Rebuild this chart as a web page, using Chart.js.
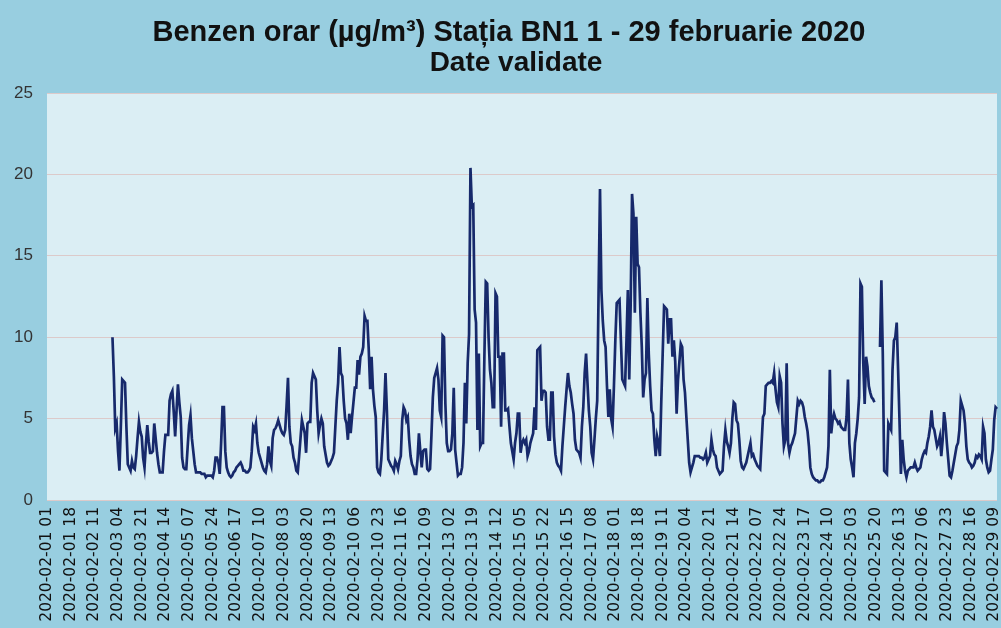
<!DOCTYPE html>
<html><head><meta charset="utf-8">
<script src="https://cdn.jsdelivr.net/npm/chart.js@4.4.1/dist/chart.umd.min.js"></script>
<style>html,body{margin:0;padding:0;background:#98cee0;}canvas{display:block}</style>
</head><body>
<canvas id="c" width="1001" height="628"></canvas>
<script>
const titleLines = ['Benzen orar (µg/m³) Stația BN1 1 - 29 februarie 2020', 'Date validate'];
const yTickValues = [0, 5, 10, 15, 20, 25];
const labelEvery = 17;

// hourly benzene values (µg/m³), index 0 = 2020-02-01 01
const benzen = [
null,null,null,null,null,null,null,null,null,null,
null,null,null,null,null,null,null,null,null,null,
null,null,null,null,null,null,null,null,null,null,
null,null,null,null,null,null,null,null,null,null,
null,null,null,null,null,null,null,
10.0,7.6,4.4,4.7,3.0,1.8,4.5,7.4,7.3,7.2,
4.5,2.2,2.0,1.8,2.4,2.0,1.9,2.7,3.8,4.8,
4.2,3.9,2.6,2.0,3.4,4.6,3.6,2.9,2.9,3.0,
4.7,3.8,2.9,2.2,1.7,1.7,1.7,3.0,4.0,4.0,
4.0,6.1,6.5,6.7,5.4,3.9,5.5,7.1,6.0,5.1,
2.6,2.0,1.9,1.9,3.3,4.6,5.2,3.8,3.0,2.2,
1.7,1.7,1.7,1.7,1.6,1.6,1.6,1.4,1.5,1.5,
1.5,1.5,1.4,1.8,2.6,2.6,2.3,1.6,3.5,5.7,
5.7,3.0,2.0,1.7,1.5,1.4,1.5,1.7,1.8,2.0,
2.1,2.2,2.3,2.1,1.8,1.8,1.7,1.7,1.8,2.0,
3.0,4.5,4.3,4.7,3.5,2.9,2.6,2.3,2.0,1.8,
1.7,2.2,3.3,2.4,2.1,3.8,4.3,4.4,4.6,4.9,
4.6,4.3,4.1,4.0,4.3,5.8,7.5,4.5,3.5,3.3,
2.6,2.3,1.8,1.7,2.7,3.8,4.9,4.5,4.1,2.9,
4.7,4.8,4.8,7.2,7.8,7.6,7.4,5.5,4.1,4.6,
5.0,4.7,3.3,2.8,2.3,2.1,2.2,2.4,2.6,2.9,
4.5,6.1,7.2,9.4,7.8,7.6,6.1,5.0,4.7,3.7,
5.3,4.1,5.1,6.0,6.9,6.9,8.6,7.7,8.8,9.0,
9.4,11.3,11.0,11.0,9.2,6.8,8.8,6.8,5.8,5.1,
2.0,1.7,1.6,2.5,4.0,5.5,7.8,5.5,2.5,2.3,
2.1,2.0,1.8,2.4,2.2,1.9,2.4,2.7,4.9,5.7,
5.5,4.9,5.1,3.7,2.7,2.2,2.0,1.6,1.6,2.5,
4.1,3.0,2.0,3.0,3.1,3.1,1.9,1.8,1.9,4.0,
6.3,7.5,7.8,8.1,7.4,5.5,5.1,10.1,10.0,5.9,
3.5,3.0,3.0,3.1,4.1,6.9,3.1,2.3,1.5,1.6,
1.6,2.0,3.5,7.2,4.7,8.4,10.2,20.4,18.0,18.1,
11.7,10.9,4.3,9.0,3.3,3.5,3.5,8.8,13.4,13.3,
10.0,8.0,7.2,5.7,5.7,12.7,12.5,8.8,8.8,4.5,
9.0,9.0,5.5,5.5,5.6,4.5,3.5,3.0,2.5,3.5,
4.1,5.3,5.3,2.9,3.5,3.7,3.5,3.7,2.7,3.0,
3.5,3.8,4.1,5.7,4.3,9.2,9.3,9.4,6.1,6.7,
6.7,6.6,4.5,3.7,3.7,6.6,6.6,3.9,2.8,2.3,
2.1,2.0,1.8,3.3,4.5,5.7,6.8,7.8,7.0,6.6,
5.9,5.3,3.7,3.1,3.0,2.9,2.6,4.5,5.7,7.8,
9.0,7.2,5.5,4.5,2.9,2.5,3.7,5.0,6.1,12.9,
19.1,12.9,11.0,9.8,9.4,7.0,5.1,6.8,5.0,4.5,
7.0,9.8,12.1,12.2,12.3,9.8,7.4,7.2,7.0,9.8,
12.9,7.4,12.0,18.8,17.6,11.5,17.4,14.5,14.3,11.5,
9.4,6.3,7.4,7.8,12.4,9.0,7.0,5.5,5.3,3.7,
2.7,3.9,3.5,2.7,6.1,9.0,11.9,11.8,11.7,9.6,
11.1,11.1,8.8,9.8,8.5,5.3,7.4,8.5,9.6,9.4,
7.4,6.6,5.1,3.7,2.3,1.7,2.0,2.3,2.7,2.7,
2.7,2.7,2.6,2.6,2.5,2.6,2.9,2.3,2.5,2.7,
3.7,3.1,2.8,2.7,2.0,1.8,1.6,1.7,1.8,3.3,
4.3,3.6,3.3,2.9,3.5,5.0,6.0,5.9,4.9,4.7,
3.7,2.4,2.0,1.9,2.1,2.3,2.7,3.1,3.5,2.7,
2.8,2.5,2.3,2.1,2.0,1.9,3.5,5.1,5.3,7.0,
7.1,7.2,7.2,7.3,7.2,7.8,6.8,6.0,5.7,7.6,
7.2,4.7,3.3,3.7,8.4,3.5,2.9,3.3,3.5,3.8,
4.1,5.1,6.1,5.9,6.1,6.0,5.7,5.1,4.7,4.2,
3.3,2.0,1.6,1.4,1.3,1.2,1.2,1.1,1.1,1.2,
1.2,1.4,1.7,2.0,3.3,8.0,4.1,4.9,5.3,5.0,
4.9,4.7,4.8,4.5,4.4,4.3,4.3,5.1,7.4,3.5,
2.5,2.0,1.4,3.5,4.1,5.0,6.3,13.3,13.1,8.4,
5.9,8.8,8.2,7.0,6.6,6.3,6.2,6.0,null,null,
null,9.4,13.5,9.0,1.8,1.7,1.6,4.7,4.5,4.3,
8.0,9.8,10.0,10.9,8.0,4.9,1.6,3.7,2.5,1.8,
1.4,1.8,1.9,2.0,2.0,2.0,2.3,2.0,1.8,1.9,
2.0,2.5,2.8,3.0,2.9,3.5,3.9,4.5,5.5,4.5,
4.3,3.8,3.3,3.5,3.9,2.7,3.7,5.4,4.7,3.5,
2.5,1.5,1.4,1.8,2.3,2.8,3.3,3.5,4.3,6.1,
5.8,5.5,4.7,3.3,2.5,2.3,2.2,2.0,2.1,2.3,
2.7,2.6,2.8,2.7,2.5,4.5,4.1,2.5,2.0,1.7,
1.8,2.5,3.1,4.9,5.7,5.6
];

// hourly categories "2020-02-DD HH" with hours 01..24
const categories = [];
for (let i = 0; i < benzen.length; i++) {
  const d = Math.floor(i / 24) + 1, h = (i % 24) + 1;
  categories.push('2020-02-' + String(d).padStart(2, '0') + ' ' + String(h).padStart(2, '0'));
}

const bgPlugin = {
  id: 'bg',
  beforeDraw(chart) {
    const c = chart.ctx, a = chart.chartArea;
    c.save();
    c.fillStyle = '#98cee0';
    c.fillRect(0, 0, chart.width, chart.height);
    c.fillStyle = '#dbeef4';
    c.fillRect(a.left, a.top, a.right - a.left, a.bottom - a.top);
    c.restore();
  }
};
const titlePlugin = {
  id: 'title2',
  afterDraw(chart) {
    const c = chart.ctx;
    c.save();
    c.fillStyle = '#111111';
    c.font = 'bold 29px "Liberation Sans", Arial, sans-serif';
    c.textAlign = 'center';
    c.textBaseline = 'middle';
    c.fillText(titleLines[0], 509, 33);
    c.font = 'bold 28px "Liberation Sans", Arial, sans-serif';
    c.fillText(titleLines[1], 516, 63);
    c.restore();
  }
};

new Chart(document.getElementById('c'), {
  type: 'line',
  data: {
    labels: categories,
    datasets: [{
      data: benzen,
      borderColor: '#17296b',
      borderWidth: 2.7,
      pointRadius: 0,
      tension: 0,
      spanGaps: false,
      fill: false
    }]
  },
  options: {
    responsive: false,
    animation: false,
    devicePixelRatio: 1,
    layout: { padding: { top: 93, right: 4, bottom: 0, left: 0 } },
    plugins: { legend: { display: false }, tooltip: { enabled: false }, title: { display: false } },
    scales: {
      x: {
        type: 'category',
        offset: false,
        grid: { display: false, drawTicks: false },
        border: { display: false },
        ticks: {
          autoSkip: false, maxRotation: 90, minRotation: 90, padding: 7,
          color: '#111111',
          font: { family: 'DejaVu Sans', size: 15.5 }
        },
        afterBuildTicks: s => { s.ticks = s.ticks.filter(t => t.value % labelEvery === 0); },
        afterFit: s => { s.height = 128; s.paddingLeft = 0; s.paddingRight = 0; }
      },
      y: {
        min: 0, max: 25,
        afterBuildTicks: s => { s.ticks = yTickValues.map(v => ({ value: v })); },
        ticks: { padding: 14, color: '#333333', font: { family: 'Liberation Sans', size: 17 } },
        grid: { color: '#dccaca', lineWidth: 1, drawTicks: false },
        border: { display: false },
        afterFit: s => { s.width = 47; s.paddingTop = 0; s.paddingBottom = 0; }
      }
    }
  },
  plugins: [bgPlugin, titlePlugin]
});
</script>
</body></html>
